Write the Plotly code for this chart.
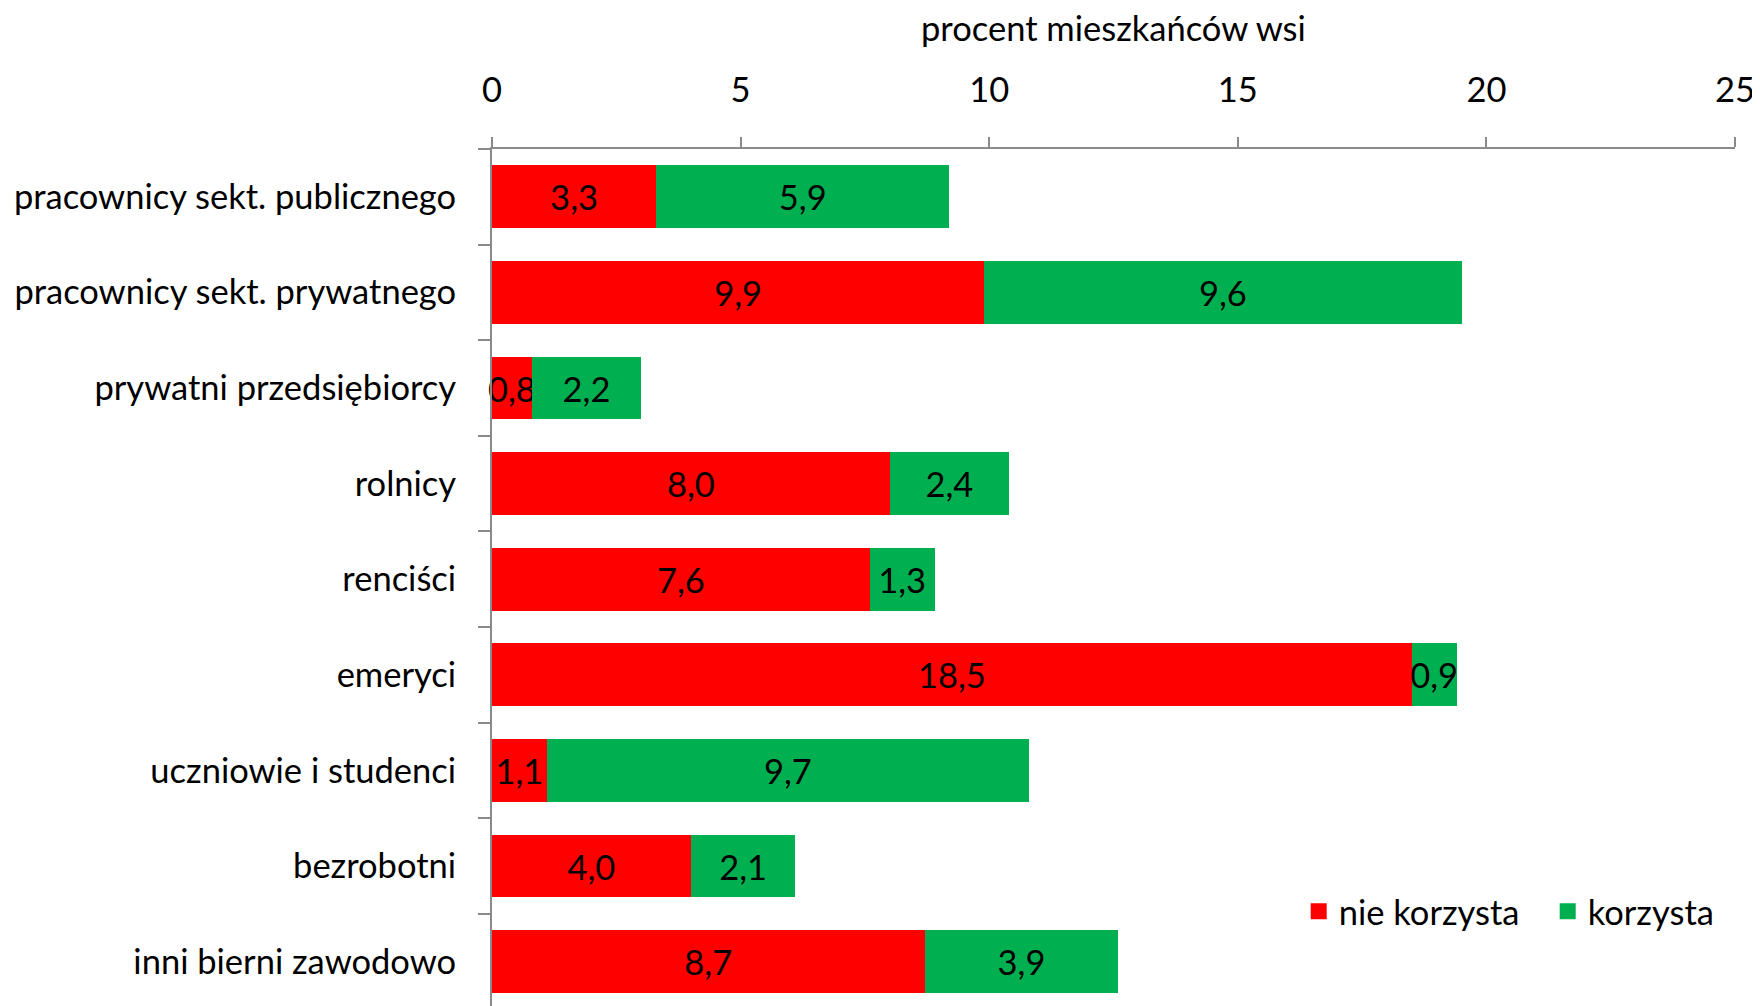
import plotly.graph_objects as go

categories = [
    "pracownicy sekt. publicznego",
    "pracownicy sekt. prywatnego",
    "prywatni przedsiębiorcy",
    "rolnicy",
    "renciści",
    "emeryci",
    "uczniowie i studenci",
    "bezrobotni",
    "inni bierni zawodowo",
]
nie_korzysta = [3.3, 9.9, 0.8, 8.0, 7.6, 18.5, 1.1, 4.0, 8.7]
korzysta = [5.9, 9.6, 2.2, 2.4, 1.3, 0.9, 9.7, 2.1, 3.9]
series_names = ["nie korzysta", "korzysta"]
x_ticks = [0, 5, 10, 15, 20, 25]
axis_title = "procent mieszkańców wsi"

RED = "#FF0000"
GREEN = "#00B050"
FONT = "Lato, Carlito, Calibri, sans-serif"
FS = 34.5
AXIS_GRAY = "#8A8A8A"


def fmt(vals):
    return [f"{v:.1f}".replace(".", ",") for v in vals]


fig = go.Figure()
for name, vals, col in [(series_names[0], nie_korzysta, RED), (series_names[1], korzysta, GREEN)]:
    fig.add_trace(go.Bar(
        y=categories, x=vals, orientation="h", name=name,
        marker=dict(color=col, line=dict(width=0)),
        text=fmt(vals), textposition="inside", insidetextanchor="middle",
        constraintext="none", textangle=0,
        textfont=dict(family=FONT, size=FS, color="black"),
        showlegend=False, cliponaxis=False,
    ))
    # legend proxy with larger square symbol
    fig.add_trace(go.Scatter(
        x=[None], y=[None], mode="markers", name=name,
        marker=dict(symbol="square", size=16, color=col),
        showlegend=True,
    ))

fig.update_layout(
    width=1750, height=998,
    margin=dict(l=484, r=23, t=141, b=0, pad=0, autoexpand=False),
    paper_bgcolor="white", plot_bgcolor="white",
    barmode="stack", bargap=0.343,
    font=dict(family=FONT, size=FS, color="black"),
    showlegend=True,
    legend=dict(
        orientation="h", x=0.649, xanchor="left", y=0.1104, yanchor="middle",
        traceorder="normal", entrywidth=204, entrywidthmode="pixels",
        font=dict(family=FONT, size=FS, color="black"),
        bgcolor="rgba(0,0,0,0)", itemwidth=30,
    ),
    xaxis=dict(
        side="top", range=[0, 25], tickvals=x_ticks, ticktext=[str(t) for t in x_ticks],
        showgrid=False, zeroline=False, showline=True, linecolor=AXIS_GRAY, linewidth=2,
        ticks="outside", ticklen=10, tickwidth=2, tickcolor=AXIS_GRAY,
        ticklabelstandoff=21, ticklabeloverflow="allow",
        tickfont=dict(family=FONT, size=FS, color="black"),
    ),
    yaxis=dict(
        type="category", range=[8.464, -0.5], tickson="boundaries",
        showgrid=False, zeroline=False, showline=True, linecolor=AXIS_GRAY, linewidth=2,
        ticks="outside", ticklen=12, tickwidth=2, tickcolor=AXIS_GRAY,
        ticklabelstandoff=27,
        tickfont=dict(family=FONT, size=FS, color="black"),
    ),
    annotations=[dict(
        text=axis_title, xref="paper", yref="paper", x=0.5, y=1,
        xanchor="center", yanchor="middle", yshift=122, showarrow=False,
        font=dict(family=FONT, size=FS, color="black"),
    )],
)

fig.write_html("out.html")
